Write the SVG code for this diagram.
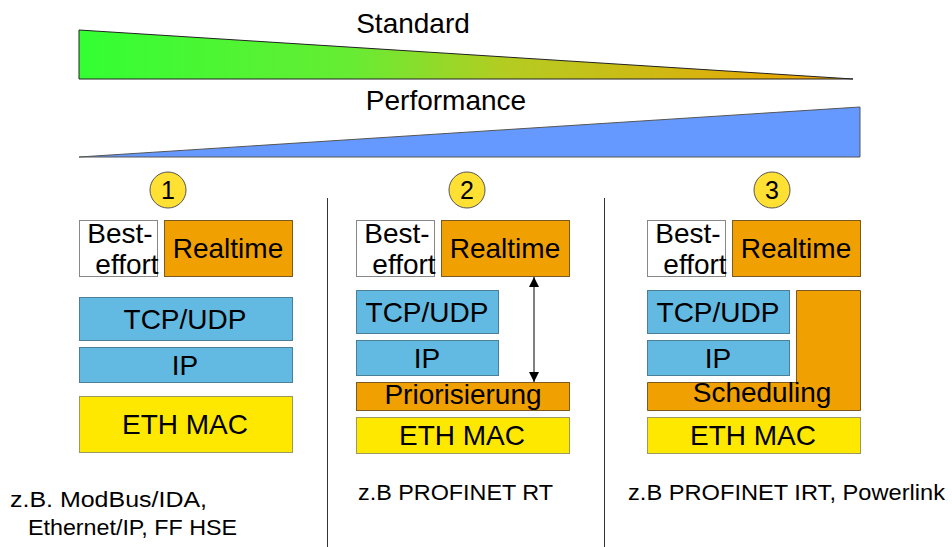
<svg xmlns="http://www.w3.org/2000/svg" width="952" height="547" viewBox="0 0 952 547">
<defs>
<linearGradient id="gStd" x1="79" y1="0" x2="853" y2="0" gradientUnits="userSpaceOnUse">
<stop offset="0" stop-color="#33ff33"/>
<stop offset="0.35" stop-color="#66ec33"/>
<stop offset="0.55" stop-color="#b4cc22"/>
<stop offset="1" stop-color="#f2a000"/>
</linearGradient>
<marker id="ah" viewBox="0 0 10 10" refX="10" refY="5" markerWidth="10" markerHeight="10" markerUnits="userSpaceOnUse" orient="auto-start-reverse">
<path d="M0,0 L10,5 L0,10 z" fill="#000"/>
</marker>
<style>
text{font-family:"Liberation Sans",Arial,sans-serif;fill:#000}
.t{font-size:28px;text-anchor:middle}
.h{font-size:28px;text-anchor:middle}
.n{font-size:22px}
.num{font-size:25px;text-anchor:middle}
.be{fill:#fff;stroke:#888;stroke-width:1}
.rt{fill:#f0a000;stroke:#7a5a20;stroke-width:1}
.bl{fill:#62b9e1;stroke:#4a7f98;stroke-width:1}
.ye{fill:#ffe800;stroke:#9a9a60;stroke-width:1}
.circ{fill:#ffe033;stroke:#555;stroke-width:1}
.div{stroke:#333;stroke-width:1}
</style>
</defs>

<g id="standard">
<polygon points="79,30 853,79 79,79" fill="url(#gStd)" stroke="#222" stroke-width="1"/>
<text class="h" x="413" y="33">Standard</text>
</g>
<g id="performance">
<polygon points="79,157 860,107 860,157" fill="#6699ff" stroke="#555" stroke-width="1"/>
<text class="h" x="446" y="110">Performance</text>
</g>

<g id="dividers">
<line class="div" x1="327.5" y1="198" x2="327.5" y2="547"/>
<line class="div" x1="604.5" y1="198" x2="604.5" y2="547"/>
</g>

<g id="col1">
<circle class="circ" cx="168" cy="190" r="18"/>
<text class="num" x="168" y="199">1</text>
<rect class="be" x="79.5" y="220.5" width="78" height="56"/>
<text class="t" x="120" y="243">Best-</text>
<text class="t" x="127" y="274">effort</text>
<rect class="rt" x="164.5" y="220.5" width="128" height="56"/>
<text class="t" x="228" y="258">Realtime</text>
<rect class="bl" x="79.5" y="297.5" width="213" height="43"/>
<text class="t" x="185" y="329">TCP/UDP</text>
<rect class="bl" x="79.5" y="347.5" width="213" height="35"/>
<text class="t" x="185" y="375">IP</text>
<rect class="ye" x="79.5" y="396.5" width="213" height="56"/>
<text class="t" x="185" y="434">ETH MAC</text>
<text class="n" x="10" y="507" textLength="197" lengthAdjust="spacingAndGlyphs">z.B. ModBus/IDA,</text>
<text class="n" x="28" y="535" textLength="209" lengthAdjust="spacingAndGlyphs">Ethernet/IP, FF HSE</text>
</g>

<g id="col2">
<circle class="circ" cx="467" cy="190" r="18"/>
<text class="num" x="467" y="199">2</text>
<rect class="be" x="356.5" y="220.5" width="78" height="56"/>
<text class="t" x="397" y="243">Best-</text>
<text class="t" x="404" y="274">effort</text>
<rect class="rt" x="441.5" y="220.5" width="128" height="56"/>
<text class="t" x="505" y="258">Realtime</text>
<rect class="bl" x="356.5" y="290.5" width="142" height="43"/>
<text class="t" x="427" y="322">TCP/UDP</text>
<rect class="bl" x="356.5" y="340.5" width="142" height="35"/>
<text class="t" x="427" y="368">IP</text>
<rect class="rt" x="356.5" y="382.5" width="213" height="28"/>
<text class="t" x="463" y="404">Priorisierung</text>
<rect class="ye" x="356.5" y="417.5" width="213" height="36"/>
<text class="t" x="462" y="445">ETH MAC</text>
<text class="n" x="358" y="500" textLength="195" lengthAdjust="spacingAndGlyphs">z.B PROFINET RT</text>
</g>

<g id="col3">
<circle class="circ" cx="772" cy="190" r="18"/>
<text class="num" x="772" y="199">3</text>
<rect class="be" x="647.5" y="220.5" width="78" height="56"/>
<text class="t" x="688" y="243">Best-</text>
<text class="t" x="695" y="274">effort</text>
<rect class="rt" x="732.5" y="220.5" width="128" height="56"/>
<text class="t" x="796" y="258">Realtime</text>
<path class="rt" d="M796.5,290.5 H860.5 V410.5 H647.5 V382.5 H796.5 Z"/>
<text class="t" x="762" y="402">Scheduling</text>
<rect class="bl" x="647.5" y="290.5" width="142" height="43"/>
<text class="t" x="718" y="322">TCP/UDP</text>
<rect class="bl" x="647.5" y="340.5" width="142" height="35"/>
<text class="t" x="718" y="368">IP</text>
<rect class="ye" x="647.5" y="417.5" width="213" height="36"/>
<text class="t" x="753" y="445">ETH MAC</text>
<text class="n" x="628" y="500" textLength="317" lengthAdjust="spacingAndGlyphs">z.B PROFINET IRT, Powerlink</text>
</g>

<g id="connectors">
<line x1="534" y1="277" x2="534" y2="382" stroke="#000" stroke-width="1" marker-start="url(#ah)" marker-end="url(#ah)"/>
</g>
</svg>
